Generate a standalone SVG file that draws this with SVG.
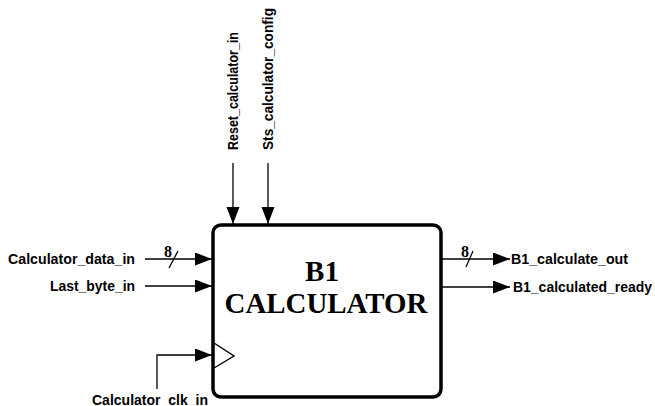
<svg xmlns="http://www.w3.org/2000/svg" width="655" height="406" viewBox="0 0 655 406">
<style>
.lbl{font-family:"Liberation Sans",Arial,sans-serif;font-weight:bold;font-size:15px;fill:#000}
.ttl{font-family:"Liberation Serif","Times New Roman",serif;font-weight:bold;font-size:29px;fill:#000}
.bus{font-family:"Liberation Serif","Times New Roman",serif;font-weight:bold;font-size:16px;fill:#000}
.wire{stroke:#000;stroke-width:1.3;fill:none}
</style>
<defs>
<marker id="ah" markerUnits="userSpaceOnUse" markerWidth="18" markerHeight="14" refX="17" refY="6.5" orient="auto">
<path d="M0,0 L17,6.5 L0,13 Z" fill="#000"/>
</marker>
</defs>
<rect width="655" height="406" fill="#fff"/>
<g id="connectors">
<line class="wire" x1="145" y1="259" x2="212" y2="259" marker-end="url(#ah)"/>
<line class="wire" x1="169" y1="268" x2="178" y2="251"/>
<text class="bus" x="164" y="257">8</text>
<line class="wire" x1="145" y1="286" x2="212" y2="286" marker-end="url(#ah)"/>
<line class="wire" x1="233" y1="163" x2="233" y2="224" marker-end="url(#ah)"/>
<line class="wire" x1="268" y1="163" x2="268" y2="224" marker-end="url(#ah)"/>
<line class="wire" x1="442" y1="259" x2="510" y2="259" marker-end="url(#ah)"/>
<line class="wire" x1="466" y1="267" x2="473" y2="251"/>
<text class="bus" x="461" y="257">8</text>
<line class="wire" x1="442" y1="287" x2="510" y2="287" marker-end="url(#ah)"/>
<polyline class="wire" points="157,389 157,355 212,355" marker-end="url(#ah)"/>
</g>
<g id="calculator">
<rect x="213" y="225" width="228" height="172" rx="8" fill="#fff" stroke="#000" stroke-width="3.5"/>
<polyline points="214,343 234,356 214,368" fill="none" stroke="#000" stroke-width="1.4"/>
<text class="ttl" x="322" y="281" text-anchor="middle">B1</text>
<text class="ttl" x="326" y="313" text-anchor="middle" textLength="203" lengthAdjust="spacingAndGlyphs">CALCULATOR</text>
</g>
<g id="calculator_data_in"><text class="lbl" x="8" y="264" textLength="127" lengthAdjust="spacingAndGlyphs">Calculator_data_in</text></g>
<g id="last_byte_in"><text class="lbl" x="50" y="291" textLength="85" lengthAdjust="spacingAndGlyphs">Last_byte_in</text></g>
<g id="reset_calculator_in"><text class="lbl" transform="translate(238,150) rotate(-90)" textLength="118" lengthAdjust="spacingAndGlyphs">Reset_calculator_in</text></g>
<g id="sts_calculator_config"><text class="lbl" transform="translate(273,150) rotate(-90)" textLength="142" lengthAdjust="spacingAndGlyphs">Sts_calculator_config</text></g>
<g id="b1_calculate_out"><text class="lbl" x="511" y="264" textLength="117" lengthAdjust="spacingAndGlyphs">B1_calculate_out</text></g>
<g id="b1_calculated_ready"><text class="lbl" x="513" y="292" textLength="139" lengthAdjust="spacingAndGlyphs">B1_calculated_ready</text></g>
<g id="calculator_clk_in"><text class="lbl" x="92" y="405" textLength="116" lengthAdjust="spacingAndGlyphs">Calculator_clk_in</text></g>
</svg>
